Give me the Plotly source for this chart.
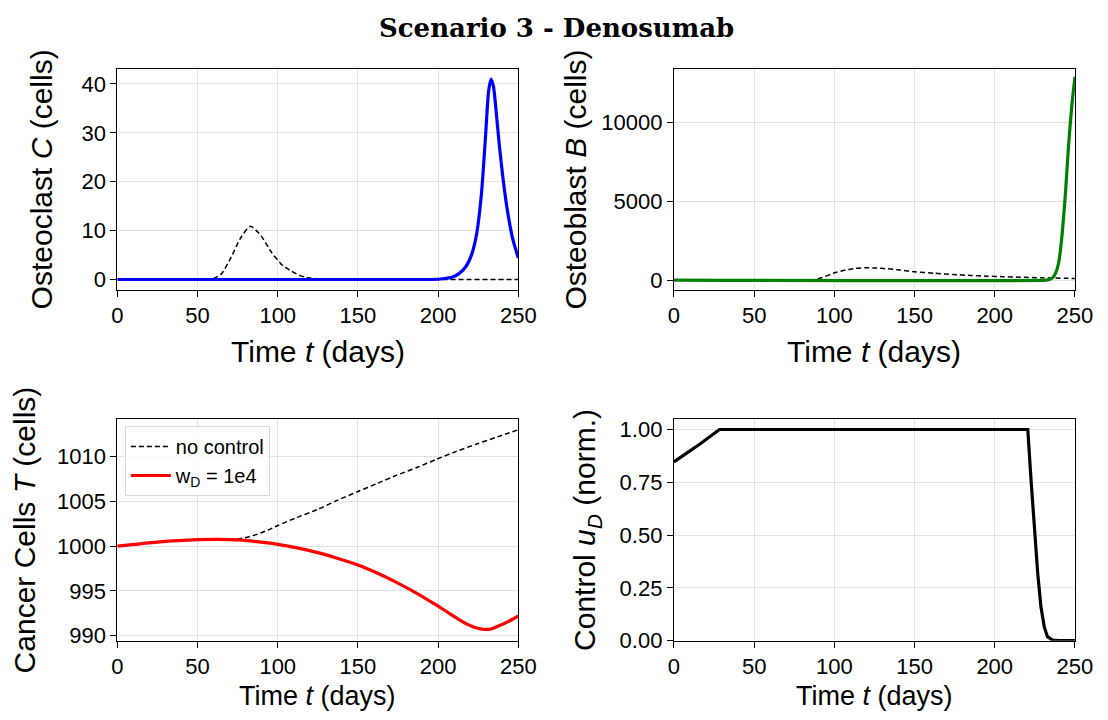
import plotly.graph_objects as go

# ---------------- data ----------------
t_C_nc = [0, 55, 60, 65, 71, 77, 83, 89.5, 96, 102, 108, 114, 120, 130, 200, 250]
C_nc = [0, 0, 0.2, 1.2, 4.6, 8.6, 10.9, 9.0, 5.6, 3.2, 1.8, 0.8, 0.3, 0.05, 0, 0]

t_C = [0, 195, 203, 209, 213, 217, 221, 224, 227, 229.5, 231.5, 233, 234.5, 236, 238, 240.5, 243.5, 246.5, 250]
C = [0, 0, 0.15, 0.5, 1.2, 2.5, 5.2, 9.3, 17.5, 29, 38.6, 41, 39.5, 35, 28, 20.5, 13.5, 8.3, 4.4]

t_B_nc = [0, 85, 92, 100, 107, 113, 119, 126, 133, 141, 150, 162, 174, 185, 195, 205, 215, 230, 250]
B_nc = [0, 0, 150, 466, 640, 741, 784, 770, 720, 640, 530, 440, 360, 300, 254, 220, 190, 150, 106]

t_B = [0, 232, 234, 236, 238, 240, 242, 244, 246, 248, 250]
B = [0, 0, 40, 150, 466, 1200, 2900, 5400, 8500, 11000, 12860]

t_T_nc = [0, 25, 50, 63, 75, 81, 87.7, 94, 100, 112, 125, 137, 150, 162, 174, 187, 199, 211, 224, 237, 250]
T_nc = [1000.0, 1000.45, 1000.72, 1000.75, 1000.8, 1001.0, 1001.35, 1001.8, 1002.3, 1003.2, 1004.1,
        1005.1, 1006.1, 1007.0, 1007.9, 1008.8, 1009.7, 1010.55, 1011.4, 1012.2, 1013.0]

t_T = [0, 25, 50, 63, 75, 87, 100, 112, 125, 137, 150, 162, 174, 187, 199, 206, 213, 219, 224, 228.5, 233, 238, 244, 250]
T = [1000.0, 1000.45, 1000.72, 1000.75, 1000.7, 1000.5, 1000.2, 999.8, 999.27, 998.65, 997.9, 997.0,
     995.95, 994.7, 993.4, 992.6, 991.8, 991.2, 990.85, 990.7, 990.75, 991.1, 991.6, 992.2]

t_u = [0, 16, 28.4, 220.6, 222.6, 224.7, 226.8, 228.8, 230.9, 232.9, 236, 240, 250]
u = [0.847, 0.93, 1.0, 1.0, 0.764, 0.525, 0.318, 0.16, 0.064, 0.019, 0.003, 0, 0]

x_ticks = [0, 50, 100, 150, 200, 250]
title_text = "Scenario 3 - Denosumab"
x_label = "Time <i>t</i> (days)"
y_labels = ["Osteoclast <i>C</i> (cells)", "Osteoblast <i>B</i> (cells)",
            "Cancer Cells <i>T</i> (cells)", "Control <i>u<sub>D</sub></i> (norm.)"]

# ---------------- layout geometry ----------------
W, H = 1108, 720
# measured scale/offset of the capture, used to place panes where the reference has them
SX, OX, SY, OY = 0.989, 2.1, 0.976, 8.4

def px(p):
    return (p - OX) / SX / W

def py(p):
    return 1 - (p - OY) / SY / H

cols = [(114.7, 520.0), (677.3, 1082.7)]
rows = [(75.0, 295.0), (424.0, 645.0)]

FONT = "Liberation Sans, Arial, Helvetica, sans-serif"
fig = go.Figure()

dash_style = dict(color="black", width=1.5, dash="5px,3px")

# top-left
fig.add_trace(go.Scatter(x=t_C_nc, y=C_nc, mode="lines", line=dict(shape="spline", smoothing=0.6, **dash_style),
                         xaxis="x", yaxis="y", showlegend=False))
fig.add_trace(go.Scatter(x=t_C, y=C, mode="lines", line=dict(color="blue", width=3.2, shape="spline", smoothing=0.6),
                         xaxis="x", yaxis="y", showlegend=False))
# top-right
fig.add_trace(go.Scatter(x=t_B_nc, y=B_nc, mode="lines", line=dict(shape="spline", smoothing=0.6, **dash_style),
                         xaxis="x2", yaxis="y2", showlegend=False))
fig.add_trace(go.Scatter(x=t_B, y=B, mode="lines", line=dict(color="green", width=3.2, shape="spline", smoothing=0.5),
                         xaxis="x2", yaxis="y2", showlegend=False))
# bottom-left
fig.add_trace(go.Scatter(x=t_T_nc, y=T_nc, mode="lines", name="no control",
                         line=dict(shape="spline", smoothing=0.6, **dash_style),
                         xaxis="x3", yaxis="y3"))
fig.add_trace(go.Scatter(x=t_T, y=T, mode="lines", name="w<sub>D</sub> = 1e4",
                         line=dict(color="red", width=3.2, shape="spline", smoothing=0.6),
                         xaxis="x3", yaxis="y3"))
# bottom-right
fig.add_trace(go.Scatter(x=t_u, y=u, mode="lines", line=dict(color="black", width=3.2),
                         xaxis="x4", yaxis="y4", showlegend=False))

axis_common = dict(showline=True, linecolor="black", linewidth=1.2, mirror=True,
                   ticks="outside", ticklen=6, tickwidth=1.2, tickcolor="black",
                   showgrid=True, gridcolor="#e3e3e3", gridwidth=1, zeroline=False,
                   tickfont=dict(family=FONT, size=22, color="black"))

yranges = [[-2.05, 43.1], [-591, 13367], [989.44, 1014.2], [0, 1.05]]
ytickvals = [[0, 10, 20, 30, 40], [0, 5000, 10000], [990, 995, 1000, 1005, 1010], [0, 0.25, 0.5, 0.75, 1.0]]
yfmt = ["d", "d", "d", ".2f"]

for i in range(4):
    r, c = divmod(i, 2)
    sfx = "" if i == 0 else str(i + 1)
    fig.update_layout(**{
        "xaxis" + sfx: dict(domain=[px(cols[c][0]), px(cols[c][1])], range=[0, 250], tickvals=x_ticks,
                            anchor="y" + sfx, **axis_common),
        "yaxis" + sfx: dict(domain=[py(rows[r][1]), py(rows[r][0])], range=yranges[i], tickvals=ytickvals[i],
                            tickformat=yfmt[i], anchor="x" + sfx, **axis_common),
    })

annotations = []
# x axis titles
for r in range(2):
    for c in range(2):
        xc = (px(cols[c][0]) + px(cols[c][1])) / 2
        if r == 0:
            annotations.append(dict(text=x_label, xref="paper", yref="paper", x=xc, y=1 - 357 / H,
                                    xanchor="center", yanchor="middle", showarrow=False,
                                    font=dict(family=FONT, size=30, color="black")))
        else:
            annotations.append(dict(text=x_label, xref="paper", yref="paper", x=xc, y=-0.009,
                                    xanchor="center", yanchor="bottom", showarrow=False,
                                    font=dict(family=FONT, size=27, color="black")))
# y axis titles (x in figure pixels)
ytitle_x = [36, 582, 19, 594]
for i in range(4):
    r, c = divmod(i, 2)
    annotations.append(dict(text=y_labels[i], xref="paper", yref="paper",
                            x=ytitle_x[i] / W, y=(py(rows[r][0]) + py(rows[r][1])) / 2,
                            xanchor="center", yanchor="middle", textangle=-90, showarrow=False,
                            font=dict(family=FONT, size=30, color="black")))
# title
annotations.append(dict(text="<b>" + title_text + "</b>", xref="paper", yref="paper",
                        x=562.6 / W, y=1 - 27 / H, xanchor="center", yanchor="middle", showarrow=False,
                        font=dict(family="DejaVu Serif, serif", size=26, color="black")))

fig.update_layout(
    width=W, height=H, margin=dict(l=0, r=0, t=0, b=0),
    paper_bgcolor="white", plot_bgcolor="white",
    annotations=annotations,
    legend=dict(x=121.5 / W, y=1 - 433 / H, xanchor="left", yanchor="top",
                bgcolor="rgba(255,255,255,0.8)", bordercolor="#d9d9d9", borderwidth=1,
                font=dict(family=FONT, size=20, color="black"), itemwidth=40),
)

fig.write_html("out.html")
